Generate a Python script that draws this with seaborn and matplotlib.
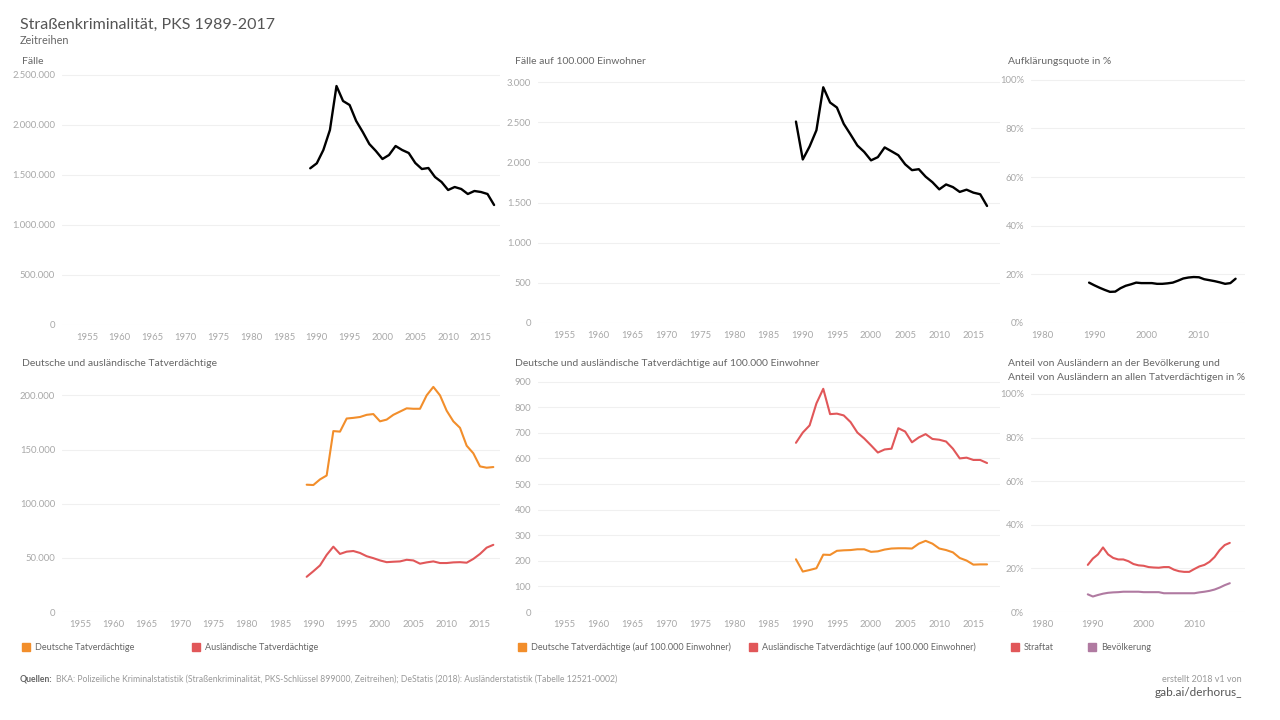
import numpy as np
import pandas as pd
import matplotlib
matplotlib.use("Agg")
import matplotlib.pyplot as plt
import matplotlib.ticker as mticker
from matplotlib.patches import Rectangle
import seaborn as sns

# Daten, 1989-2017
jahre = list(range(1989, 2018))

faelle = [1.567, 1.617, 1.75, 1.95, 2.39, 2.24, 2.20, 2.04, 1.93, 1.81, 1.74, 1.66, 1.70, 1.79,
          1.75, 1.72, 1.62, 1.56, 1.57, 1.48, 1.43, 1.35, 1.38, 1.36, 1.31, 1.34, 1.33, 1.31, 1.20]
faelle = [v * 1e6 for v in faelle]

faelle_100k = [2508, 2036, 2198, 2400, 2935, 2745, 2683, 2480, 2347, 2210, 2130, 2025, 2065, 2186,
               2138, 2089, 1976, 1903, 1915, 1822, 1753, 1664, 1725, 1692, 1632, 1660, 1623, 1603, 1457]

aufklaerung = [16.6, 15.5, 14.5, 13.6, 12.8, 12.9, 14.3, 15.3, 15.9, 16.6, 16.4, 16.4, 16.4, 16.1,
               16.1, 16.3, 16.6, 17.4, 18.3, 18.7, 18.9, 18.8, 18.0, 17.6, 17.2, 16.7, 16.1, 16.4, 18.2]

tv_deutsch = [117.5, 117.2, 122.4, 126, 167, 166.5, 178.6, 179.2, 180, 182, 182.7, 176, 177.6, 182,
              185, 188, 187.6, 187.6, 200, 207.8, 200, 185.8, 176, 170, 153.5, 146.5, 134.4, 133.2, 133.8]
tv_auslaend = [32.5, 37.6, 43, 52.7, 60.3, 53.6, 55.7, 56.3, 54.5, 51.5, 49.7, 47.6, 46, 46.4,
               46.7, 48.2, 47.6, 44.6, 45.8, 46.7, 45.2, 45.2, 45.8, 46, 45.5, 49, 53.6, 59.4, 62]
tv_deutsch = [v * 1000 for v in tv_deutsch]
tv_auslaend = [v * 1000 for v in tv_auslaend]

tv_deutsch_100k = [206, 158, 164, 171, 224, 223, 239, 241, 242, 245, 245, 235, 237, 244,
                   248, 249, 249, 248, 267, 278, 267, 248, 242, 233, 211, 201, 185, 186, 186]
tv_auslaend_100k = [661, 701, 729, 815, 872, 773, 775, 768, 742, 701, 678, 651, 623, 635,
                    638, 718, 705, 663, 682, 695, 676, 673, 666, 638, 600, 603, 594, 594, 582]

anteil_straftat = [21.6, 24.5, 26.4, 29.6, 26.4, 24.8, 24.1, 24.1, 23.3, 22.0, 21.4, 21.2, 20.6, 20.4,
                   20.3, 20.6, 20.6, 19.4, 18.7, 18.4, 18.4, 19.7, 20.9, 21.6, 23.0, 25.2, 28.4, 30.7, 31.7]
anteil_bevoelkerung = [8.1, 7.1, 7.8, 8.4, 8.8, 9.0, 9.1, 9.3, 9.3, 9.3, 9.3, 9.1, 9.1, 9.1,
                       9.1, 8.6, 8.6, 8.6, 8.6, 8.6, 8.6, 8.6, 9.0, 9.3, 9.7, 10.3, 11.2, 12.3, 13.2]

ORANGE = "#f28e2b"
ROT = "#e15759"
LILA = "#b07aa1"

sns.set_theme(style="white")
plt.rcParams['font.family'] = ['Lato', 'DejaVu Sans']

W, H = 1280, 720
fig = plt.figure(figsize=(W / 100, H / 100), dpi=100)


def make_ax(left, right, top, bottom):
    return fig.add_axes([left / W, (H - bottom) / H, (right - left) / W, (bottom - top) / H])


def de_fmt(x, pos):
    return f"{int(round(x)):,}".replace(",", ".")


def pct_fmt(x, pos):
    return f"{int(round(x))}%"


def style(ax, xlim, ylim, yticks, xticks, fmt):
    ax.set_xlim(*xlim)
    ax.set_ylim(*ylim)
    ax.set_yticks(yticks)
    ax.set_xticks(xticks)
    ax.yaxis.set_major_formatter(mticker.FuncFormatter(fmt))
    ax.set_xlabel("")
    ax.set_ylabel("")
    ax.grid(axis="y", color="#f0f0f0", linewidth=0.8)
    ax.grid(axis="x", visible=False)
    for s in ax.spines.values():
        s.set_visible(False)
    ax.tick_params(axis="both", length=0, labelsize=6.8, labelcolor="#a8a8a8")
    ax.tick_params(axis="y", pad=5)
    ax.tick_params(axis="x", pad=6)


def lines(ax, series, palette, lw):
    df = pd.DataFrame({"Jahr": jahre * len(series),
                       "Wert": sum([vals for _, vals in series], []),
                       "Reihe": sum([[name] * len(jahre) for name, _ in series], [])})
    sns.lineplot(data=df, x="Jahr", y="Wert", hue="Reihe", palette=palette, ax=ax,
                 legend=False, linewidth=lw)


xt_long = list(range(1955, 2016, 5))
xt_short = [1980, 1990, 2000, 2010]

# Obere Reihe
ax1 = make_ax(62, 500, 70, 325)
lines(ax1, [("Fälle", faelle)], ["black"], 1.7)
style(ax1, (1951.2, 2017.9), (0, 2.55e6), np.arange(0, 2.5e6 + 1, 5e5), xt_long, de_fmt)

ax2 = make_ax(538, 1000, 70, 323)
lines(ax2, [("Fälle 100k", faelle_100k)], ["black"], 1.7)
style(ax2, (1951.2, 2018.9), (0, 3150), np.arange(0, 3001, 500), xt_long, de_fmt)

ax3 = make_ax(1031, 1245, 70, 323)
lines(ax3, [("Quote", aufklaerung)], ["black"], 1.7)
style(ax3, (1977.9, 2018.8), (0, 104), np.arange(0, 101, 20), xt_short, pct_fmt)

# Untere Reihe
ax4 = make_ax(62, 500, 378, 612)
lines(ax4, [("Deutsche", tv_deutsch), ("Ausländische", tv_auslaend)], [ORANGE, ROT], 1.5)
style(ax4, (1952.3, 2018.0), (0, 216000), np.arange(0, 200001, 50000), xt_long, de_fmt)

ax5 = make_ax(538, 1000, 376, 612)
lines(ax5, [("Deutsche", tv_deutsch_100k), ("Ausländische", tv_auslaend_100k)], [ORANGE, ROT], 1.5)
style(ax5, (1951.2, 2018.9), (0, 922), np.arange(0, 901, 100), xt_long, de_fmt)

ax6 = make_ax(1031, 1245, 390, 612)
lines(ax6, [("Straftat", anteil_straftat), ("Bevölkerung", anteil_bevoelkerung)], [ROT, LILA], 1.5)
style(ax6, (1977.8, 2020.0), (0, 101.8), np.arange(0, 101, 20), xt_short, pct_fmt)

# Titel
fig.text(20 / W, 1 - 25 / H, "Straßenkriminalität, PKS 1989-2017", fontsize=11.5, color="#555555", va="center")
fig.text(20 / W, 1 - 41 / H, "Zeitreihen", fontsize=7.8, color="#666666", va="center")

panel_titles = [
    (22, 62, "Fälle"),
    (515, 62, "Fälle auf 100.000 Einwohner"),
    (1008, 62, "Aufklärungsquote in %"),
    (22, 363, "Deutsche und ausländische Tatverdächtige"),
    (515, 363, "Deutsche und ausländische Tatverdächtige auf 100.000 Einwohner"),
    (1008, 363, "Anteil von Ausländern an der Bevölkerung und"),
    (1008, 377, "Anteil von Ausländern an allen Tatverdächtigen in %"),
]
for x, y, t in panel_titles:
    fig.text(x / W, 1 - y / H, t, fontsize=7.5, color="#666666", va="center")

# Legenden
legend_items = [
    (22, ORANGE, "Deutsche Tatverdächtige"),
    (192, ROT, "Ausländische Tatverdächtige"),
    (518, ORANGE, "Deutsche Tatverdächtige (auf 100.000 Einwohner)"),
    (749, ROT, "Ausländische Tatverdächtige (auf 100.000 Einwohner)"),
    (1011, ROT, "Straftat"),
    (1088, LILA, "Bevölkerung"),
]
for x, c, t in legend_items:
    fig.add_artist(Rectangle((x / W, 1 - 651 / H), 8 / W, 8 / H, color=c, transform=fig.transFigure))
    fig.text((x + 13) / W, 1 - 647 / H, t, fontsize=6.5, color="#666666", va="center")

# Fußzeile
q = fig.text(20 / W, 1 - 679 / H, "Quellen:", fontsize=6.2, color="#666666", va="center", fontweight="bold")
fig.canvas.draw()
q_end = q.get_window_extent().x1
fig.text((q_end + 3) / W, 1 - 679 / H,
         "BKA: Polizeiliche Kriminalstatistik (Straßenkriminalität, PKS-Schlüssel 899000, Zeitreihen); "
         "DeStatis (2018): Ausländerstatistik (Tabelle 12521-0002)",
         fontsize=6.2, color="#999999", va="center")
fig.text(1242 / W, 1 - 679 / H, "erstellt 2018 v1 von", fontsize=6.5, color="#999999", va="center", ha="right")
fig.text(1242 / W, 1 - 692 / H, "gab.ai/derhorus_", fontsize=8.5, color="#555555", va="center", ha="right")

fig.savefig("out.png", dpi=100, facecolor="white")
